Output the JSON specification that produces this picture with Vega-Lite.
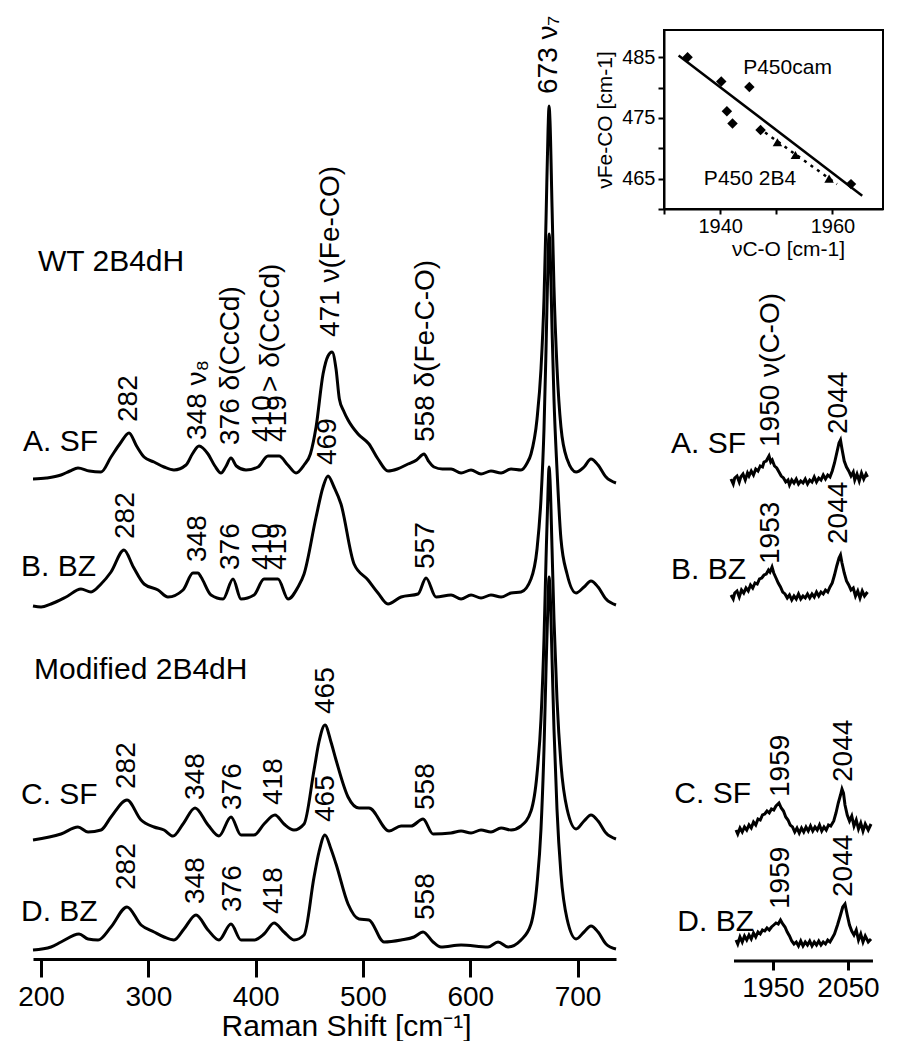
{
"$schema": "https://vega.github.io/schema/vega-lite/v6.json",
"padding": {"left": 17, "top": 15, "right": 0, "bottom": 0},
"config": {"view": {"stroke": null}, "font": "Liberation Sans", "axis": {"grid": false, "domainColor": "black", "tickColor": "black", "labelColor": "black", "titleColor": "black", "titleFontWeight": "normal", "labelOverlap": false}, "text": {"color": "black"}},
"datasets": {
"main": [
{"s":"A","cm":192.5,"I":480},{"s":"A","cm":205,"I":481},{"s":"A","cm":218.6,"I":484},{"s":"A","cm":227,"I":488},{"s":"A","cm":234.4,"I":491},{"s":"A","cm":245,"I":488},{"s":"A","cm":255.9,"I":487},{"s":"A","cm":265.2,"I":502},{"s":"A","cm":274,"I":516},{"s":"A","cm":282,"I":526},{"s":"A","cm":289,"I":513},{"s":"A","cm":296,"I":502},{"s":"A","cm":305.3,"I":497},{"s":"A","cm":314.6,"I":492},{"s":"A","cm":323.9,"I":489},{"s":"A","cm":335.1,"I":494},{"s":"A","cm":341,"I":505},{"s":"A","cm":347.2,"I":513},{"s":"A","cm":355.6,"I":505},{"s":"A","cm":362,"I":493},{"s":"A","cm":367.7,"I":486},{"s":"A","cm":372,"I":492},{"s":"A","cm":377,"I":501},{"s":"A","cm":382,"I":493},{"s":"A","cm":391,"I":489},{"s":"A","cm":402.2,"I":492},{"s":"A","cm":411.5,"I":503},{"s":"A","cm":421.8,"I":503},{"s":"A","cm":430,"I":494},{"s":"A","cm":437.6,"I":486},{"s":"A","cm":445.1,"I":494},{"s":"A","cm":451,"I":505},{"s":"A","cm":456.3,"I":532},{"s":"A","cm":462.8,"I":585},{"s":"A","cm":467.4,"I":603},{"s":"A","cm":471.2,"I":607},{"s":"A","cm":474.9,"I":590},{"s":"A","cm":478,"I":560},{"s":"A","cm":482,"I":548},{"s":"A","cm":486.1,"I":539},{"s":"A","cm":495.4,"I":525},{"s":"A","cm":505.6,"I":515},{"s":"A","cm":514,"I":500},{"s":"A","cm":523.3,"I":488},{"s":"A","cm":532,"I":490},{"s":"A","cm":542,"I":495},{"s":"A","cm":550,"I":499},{"s":"A","cm":556.9,"I":505},{"s":"A","cm":561,"I":498},{"s":"A","cm":566.2,"I":492},{"s":"A","cm":574,"I":490},{"s":"A","cm":582.1,"I":490},{"s":"A","cm":591.4,"I":486},{"s":"A","cm":600.7,"I":489},{"s":"A","cm":610,"I":485},{"s":"A","cm":619.3,"I":488},{"s":"A","cm":628.7,"I":486},{"s":"A","cm":638,"I":490},{"s":"A","cm":647.3,"I":489},{"s":"A","cm":653,"I":496},{"s":"A","cm":656.6,"I":505},{"s":"A","cm":662.2,"I":540},{"s":"A","cm":665.9,"I":590},{"s":"A","cm":668.7,"I":660},{"s":"A","cm":670.6,"I":740},{"s":"A","cm":672.5,"I":830},{"s":"A","cm":673.4,"I":853},{"s":"A","cm":674.3,"I":838},{"s":"A","cm":676.2,"I":752},{"s":"A","cm":678,"I":672},{"s":"A","cm":680.8,"I":592},{"s":"A","cm":684.5,"I":532},{"s":"A","cm":690.2,"I":500},{"s":"A","cm":698.6,"I":487},{"s":"A","cm":706,"I":492},{"s":"A","cm":712.5,"I":500},{"s":"A","cm":719.1,"I":494},{"s":"A","cm":726.5,"I":482},{"s":"A","cm":735.8,"I":476},
{"s":"B","cm":192.5,"I":353},{"s":"B","cm":200,"I":352},{"s":"B","cm":209.3,"I":355},{"s":"B","cm":223.3,"I":362},{"s":"B","cm":237.2,"I":370},{"s":"B","cm":246.6,"I":367},{"s":"B","cm":255.9,"I":375},{"s":"B","cm":265.2,"I":387},{"s":"B","cm":277.3,"I":409},{"s":"B","cm":286,"I":392},{"s":"B","cm":296,"I":375},{"s":"B","cm":309,"I":369},{"s":"B","cm":318.3,"I":362},{"s":"B","cm":332.3,"I":369},{"s":"B","cm":341.6,"I":386},{"s":"B","cm":346.3,"I":386},{"s":"B","cm":349.1,"I":382},{"s":"B","cm":358.4,"I":364},{"s":"B","cm":369.6,"I":360},{"s":"B","cm":378.9,"I":380},{"s":"B","cm":386.3,"I":360},{"s":"B","cm":398.5,"I":364},{"s":"B","cm":407.8,"I":380},{"s":"B","cm":420.8,"I":380},{"s":"B","cm":430.2,"I":360},{"s":"B","cm":439.5,"I":372},{"s":"B","cm":445.1,"I":385},{"s":"B","cm":456.3,"I":442},{"s":"B","cm":462.8,"I":472},{"s":"B","cm":467.4,"I":483},{"s":"B","cm":473,"I":472},{"s":"B","cm":479.5,"I":455},{"s":"B","cm":491.7,"I":395},{"s":"B","cm":504.7,"I":379},{"s":"B","cm":514,"I":366},{"s":"B","cm":523.3,"I":355},{"s":"B","cm":535.5,"I":362},{"s":"B","cm":551.3,"I":365},{"s":"B","cm":558.8,"I":381},{"s":"B","cm":568.1,"I":362},{"s":"B","cm":582.1,"I":364},{"s":"B","cm":591.4,"I":360},{"s":"B","cm":600.7,"I":364},{"s":"B","cm":610,"I":361},{"s":"B","cm":619.3,"I":364},{"s":"B","cm":628.7,"I":362},{"s":"B","cm":638,"I":366},{"s":"B","cm":647.3,"I":367},{"s":"B","cm":656.6,"I":380},{"s":"B","cm":662.2,"I":410},{"s":"B","cm":665.9,"I":460},{"s":"B","cm":668.7,"I":530},{"s":"B","cm":670.6,"I":610},{"s":"B","cm":672.5,"I":700},{"s":"B","cm":673.4,"I":725},{"s":"B","cm":674.3,"I":712},{"s":"B","cm":676.2,"I":630},{"s":"B","cm":678,"I":560},{"s":"B","cm":680.8,"I":490},{"s":"B","cm":684.5,"I":420},{"s":"B","cm":690.2,"I":385},{"s":"B","cm":698.6,"I":366},{"s":"B","cm":706,"I":372},{"s":"B","cm":712.5,"I":378},{"s":"B","cm":719.1,"I":372},{"s":"B","cm":726.5,"I":360},{"s":"B","cm":735.8,"I":354},
{"s":"C","cm":192.5,"I":119},{"s":"C","cm":218.6,"I":125},{"s":"C","cm":234.4,"I":132},{"s":"C","cm":243.8,"I":127},{"s":"C","cm":255.9,"I":129},{"s":"C","cm":265.2,"I":142},{"s":"C","cm":280.1,"I":159},{"s":"C","cm":293.2,"I":139},{"s":"C","cm":305.3,"I":132},{"s":"C","cm":314.6,"I":129},{"s":"C","cm":323,"I":123},{"s":"C","cm":332.3,"I":135},{"s":"C","cm":343.5,"I":151},{"s":"C","cm":355.6,"I":134},{"s":"C","cm":365.8,"I":123},{"s":"C","cm":377,"I":142},{"s":"C","cm":386.3,"I":124},{"s":"C","cm":398.5,"I":124},{"s":"C","cm":407.8,"I":135},{"s":"C","cm":418,"I":144},{"s":"C","cm":426.4,"I":135},{"s":"C","cm":435.7,"I":129},{"s":"C","cm":445.1,"I":135},{"s":"C","cm":454.4,"I":189},{"s":"C","cm":459,"I":217},{"s":"C","cm":464.6,"I":234},{"s":"C","cm":470.2,"I":217},{"s":"C","cm":474.9,"I":199},{"s":"C","cm":486.1,"I":162},{"s":"C","cm":496.3,"I":151},{"s":"C","cm":505.6,"I":151},{"s":"C","cm":524.3,"I":128},{"s":"C","cm":535.5,"I":133},{"s":"C","cm":544.8,"I":133},{"s":"C","cm":556,"I":140},{"s":"C","cm":565.3,"I":125},{"s":"C","cm":582.1,"I":126},{"s":"C","cm":591.4,"I":128},{"s":"C","cm":600.7,"I":126},{"s":"C","cm":610,"I":129},{"s":"C","cm":619.3,"I":127},{"s":"C","cm":628.7,"I":131},{"s":"C","cm":638,"I":129},{"s":"C","cm":647.3,"I":133},{"s":"C","cm":656.6,"I":148},{"s":"C","cm":662.2,"I":185},{"s":"C","cm":665.9,"I":240},{"s":"C","cm":668.7,"I":320},{"s":"C","cm":670.6,"I":400},{"s":"C","cm":672.5,"I":470},{"s":"C","cm":673.4,"I":492},{"s":"C","cm":674.3,"I":480},{"s":"C","cm":676.2,"I":410},{"s":"C","cm":678,"I":340},{"s":"C","cm":680.8,"I":260},{"s":"C","cm":684.5,"I":195},{"s":"C","cm":690.2,"I":150},{"s":"C","cm":698.6,"I":130},{"s":"C","cm":706,"I":138},{"s":"C","cm":712.5,"I":144},{"s":"C","cm":719.1,"I":138},{"s":"C","cm":726.5,"I":126},{"s":"C","cm":735.8,"I":120},
{"s":"D","cm":192.5,"I":9},{"s":"D","cm":209.3,"I":12},{"s":"D","cm":218.6,"I":17},{"s":"D","cm":235.4,"I":25},{"s":"D","cm":243.8,"I":20},{"s":"D","cm":253.1,"I":19},{"s":"D","cm":265.2,"I":32},{"s":"D","cm":280.1,"I":52},{"s":"D","cm":293.2,"I":34},{"s":"D","cm":305.3,"I":27},{"s":"D","cm":314.6,"I":22},{"s":"D","cm":323.9,"I":19},{"s":"D","cm":333.2,"I":30},{"s":"D","cm":344.4,"I":44},{"s":"D","cm":355.6,"I":29},{"s":"D","cm":365.8,"I":19},{"s":"D","cm":377,"I":35},{"s":"D","cm":386.3,"I":19},{"s":"D","cm":398.5,"I":19},{"s":"D","cm":407.8,"I":25},{"s":"D","cm":417.1,"I":36},{"s":"D","cm":426.4,"I":27},{"s":"D","cm":435.7,"I":19},{"s":"D","cm":445.1,"I":24},{"s":"D","cm":454.4,"I":82},{"s":"D","cm":459,"I":107},{"s":"D","cm":464.6,"I":124},{"s":"D","cm":470.2,"I":110},{"s":"D","cm":474.9,"I":95},{"s":"D","cm":486.1,"I":55},{"s":"D","cm":496.3,"I":40},{"s":"D","cm":505.6,"I":39},{"s":"D","cm":519.6,"I":17},{"s":"D","cm":535.5,"I":19},{"s":"D","cm":547.6,"I":22},{"s":"D","cm":556,"I":27},{"s":"D","cm":565.3,"I":17},{"s":"D","cm":572.7,"I":12},{"s":"D","cm":591.4,"I":14},{"s":"D","cm":616.5,"I":12},{"s":"D","cm":625.9,"I":17},{"s":"D","cm":635.2,"I":12},{"s":"D","cm":647.3,"I":19},{"s":"D","cm":656.6,"I":35},{"s":"D","cm":662.2,"I":75},{"s":"D","cm":665.9,"I":130},{"s":"D","cm":668.7,"I":210},{"s":"D","cm":670.6,"I":290},{"s":"D","cm":672.5,"I":360},{"s":"D","cm":673.4,"I":382},{"s":"D","cm":674.3,"I":370},{"s":"D","cm":676.2,"I":300},{"s":"D","cm":678,"I":230},{"s":"D","cm":680.8,"I":150},{"s":"D","cm":684.5,"I":85},{"s":"D","cm":690.2,"I":40},{"s":"D","cm":698.6,"I":20},{"s":"D","cm":706,"I":27},{"s":"D","cm":712.5,"I":33},{"s":"D","cm":719.1,"I":27},{"s":"D","cm":726.5,"I":15},{"s":"D","cm":735.8,"I":10}
],
"mainlab": [
{"cm":282,"I":537,"t":"282"},{"cm":346.3,"I":519,"t":"348 ν₈"},{"cm":377,"I":514,"t":"376 δ(CcCd)"},{"cm":406.9,"I":517,"t":"410"},{"cm":420.8,"I":517,"t":"419"},{"cm":414.3,"I":567,"t":"> δ(CcCd)"},{"cm":470.2,"I":622,"t":"471 ν(Fe-CO)"},{"cm":558.8,"I":517,"t":"558 δ(Fe-C-O)"},{"cm":673.4,"I":865,"t":"673 ν₇"},
{"cm":279.2,"I":420,"t":"282"},{"cm":346.3,"I":397,"t":"348"},{"cm":377,"I":389,"t":"376"},{"cm":406.9,"I":389,"t":"410"},{"cm":420.8,"I":389,"t":"419"},{"cm":467.4,"I":494,"t":"469"},{"cm":558.8,"I":390,"t":"557"},
{"cm":280.1,"I":170,"t":"282"},{"cm":344.4,"I":159,"t":"348"},{"cm":378.9,"I":149,"t":"376"},{"cm":417.1,"I":154,"t":"418"},{"cm":465.6,"I":245,"t":"465"},{"cm":558.8,"I":149,"t":"558"},
{"cm":280.1,"I":69,"t":"282"},{"cm":344.4,"I":55,"t":"348"},{"cm":378.9,"I":47,"t":"376"},{"cm":417.1,"I":45,"t":"418"},{"cm":465.6,"I":137,"t":"465"},{"cm":558.8,"I":39,"t":"558"}
],
"mainname": [
{"cm":197.2,"I":697,"t":"WT 2B4dH"},{"cm":183.2,"I":517,"t":"A. SF"},{"cm":181.3,"I":392,"t":"B. BZ"},{"cm":193.4,"I":289,"t":"Modified 2B4dH"},{"cm":181.3,"I":164,"t":"C. SF"},{"cm":181.3,"I":47,"t":"D. BZ"}
],
"right": [
{"s":"A","wn":1894,"I2":482},{"s":"A","wn":1897,"I2":477},{"s":"A","wn":1899,"I2":483},{"s":"A","wn":1902,"I2":485},{"s":"A","wn":1905,"I2":479},{"s":"A","wn":1907,"I2":484},{"s":"A","wn":1910,"I2":487},{"s":"A","wn":1913,"I2":481},{"s":"A","wn":1916,"I2":488},{"s":"A","wn":1918,"I2":485},{"s":"A","wn":1921,"I2":490},{"s":"A","wn":1924,"I2":486},{"s":"A","wn":1927,"I2":492},{"s":"A","wn":1930,"I2":490},{"s":"A","wn":1933,"I2":495},{"s":"A","wn":1936,"I2":494},{"s":"A","wn":1938,"I2":499},{"s":"A","wn":1941,"I2":500},{"s":"A","wn":1944.7,"I2":505},{"s":"A","wn":1947,"I2":499},{"s":"A","wn":1949,"I2":501},{"s":"A","wn":1952,"I2":495},{"s":"A","wn":1955,"I2":493},{"s":"A","wn":1958,"I2":489},{"s":"A","wn":1961,"I2":485},{"s":"A","wn":1964,"I2":483},{"s":"A","wn":1967,"I2":479},{"s":"A","wn":1970,"I2":481},{"s":"A","wn":1972,"I2":476},{"s":"A","wn":1975,"I2":481},{"s":"A","wn":1978,"I2":478},{"s":"A","wn":1981,"I2":482},{"s":"A","wn":1984,"I2":477},{"s":"A","wn":1987,"I2":480},{"s":"A","wn":1990,"I2":478},{"s":"A","wn":1993,"I2":482},{"s":"A","wn":1996,"I2":477},{"s":"A","wn":1999,"I2":481},{"s":"A","wn":2002,"I2":479},{"s":"A","wn":2005,"I2":484},{"s":"A","wn":2008,"I2":479},{"s":"A","wn":2011,"I2":483},{"s":"A","wn":2014,"I2":481},{"s":"A","wn":2017,"I2":486},{"s":"A","wn":2020,"I2":482},{"s":"A","wn":2023,"I2":486},{"s":"A","wn":2026,"I2":484},{"s":"A","wn":2029,"I2":490},{"s":"A","wn":2032,"I2":498},{"s":"A","wn":2035,"I2":508},{"s":"A","wn":2038,"I2":518},{"s":"A","wn":2040,"I2":521},{"s":"A","wn":2042,"I2":512},{"s":"A","wn":2045,"I2":500},{"s":"A","wn":2048,"I2":494},{"s":"A","wn":2051,"I2":490},{"s":"A","wn":2054,"I2":485},{"s":"A","wn":2057,"I2":489},{"s":"A","wn":2059,"I2":481},{"s":"A","wn":2062,"I2":487},{"s":"A","wn":2065,"I2":480},{"s":"A","wn":2068,"I2":488},{"s":"A","wn":2071,"I2":482},{"s":"A","wn":2074,"I2":487},{"s":"A","wn":2076,"I2":484},
{"s":"B","wn":1894,"I2":366},{"s":"B","wn":1897,"I2":362},{"s":"B","wn":1899,"I2":368},{"s":"B","wn":1902,"I2":370},{"s":"B","wn":1905,"I2":364},{"s":"B","wn":1908,"I2":371},{"s":"B","wn":1911,"I2":368},{"s":"B","wn":1914,"I2":373},{"s":"B","wn":1917,"I2":370},{"s":"B","wn":1920,"I2":376},{"s":"B","wn":1923,"I2":373},{"s":"B","wn":1926,"I2":378},{"s":"B","wn":1929,"I2":377},{"s":"B","wn":1932,"I2":382},{"s":"B","wn":1935,"I2":383},{"s":"B","wn":1938,"I2":386},{"s":"B","wn":1941,"I2":387},{"s":"B","wn":1944,"I2":391},{"s":"B","wn":1946,"I2":389},{"s":"B","wn":1948.7,"I2":394},{"s":"B","wn":1951,"I2":388},{"s":"B","wn":1954,"I2":383},{"s":"B","wn":1957,"I2":378},{"s":"B","wn":1960,"I2":374},{"s":"B","wn":1963,"I2":369},{"s":"B","wn":1966,"I2":367},{"s":"B","wn":1969,"I2":363},{"s":"B","wn":1972,"I2":366},{"s":"B","wn":1975,"I2":361},{"s":"B","wn":1978,"I2":365},{"s":"B","wn":1981,"I2":362},{"s":"B","wn":1984,"I2":367},{"s":"B","wn":1987,"I2":362},{"s":"B","wn":1990,"I2":365},{"s":"B","wn":1993,"I2":363},{"s":"B","wn":1996,"I2":367},{"s":"B","wn":1999,"I2":363},{"s":"B","wn":2002,"I2":367},{"s":"B","wn":2005,"I2":364},{"s":"B","wn":2008,"I2":369},{"s":"B","wn":2011,"I2":365},{"s":"B","wn":2014,"I2":369},{"s":"B","wn":2017,"I2":367},{"s":"B","wn":2020,"I2":371},{"s":"B","wn":2023,"I2":369},{"s":"B","wn":2026,"I2":374},{"s":"B","wn":2029,"I2":378},{"s":"B","wn":2032,"I2":386},{"s":"B","wn":2035,"I2":395},{"s":"B","wn":2038,"I2":403},{"s":"B","wn":2040,"I2":406},{"s":"B","wn":2042,"I2":398},{"s":"B","wn":2045,"I2":388},{"s":"B","wn":2048,"I2":380},{"s":"B","wn":2051,"I2":376},{"s":"B","wn":2054,"I2":371},{"s":"B","wn":2057,"I2":373},{"s":"B","wn":2060,"I2":365},{"s":"B","wn":2063,"I2":370},{"s":"B","wn":2066,"I2":363},{"s":"B","wn":2069,"I2":370},{"s":"B","wn":2072,"I2":365},{"s":"B","wn":2076,"I2":369},
{"s":"C","wn":1900.7,"I2":131},{"s":"C","wn":1903,"I2":127},{"s":"C","wn":1906,"I2":133},{"s":"C","wn":1909,"I2":129},{"s":"C","wn":1912,"I2":134},{"s":"C","wn":1915,"I2":131},{"s":"C","wn":1918,"I2":136},{"s":"C","wn":1921,"I2":133},{"s":"C","wn":1924,"I2":139},{"s":"C","wn":1927,"I2":136},{"s":"C","wn":1930,"I2":142},{"s":"C","wn":1933,"I2":141},{"s":"C","wn":1936,"I2":146},{"s":"C","wn":1939,"I2":147},{"s":"C","wn":1942,"I2":150},{"s":"C","wn":1945,"I2":148},{"s":"C","wn":1948,"I2":152},{"s":"C","wn":1951,"I2":151},{"s":"C","wn":1954,"I2":155},{"s":"C","wn":1958,"I2":158},{"s":"C","wn":1961,"I2":153},{"s":"C","wn":1964,"I2":150},{"s":"C","wn":1967,"I2":144},{"s":"C","wn":1970,"I2":141},{"s":"C","wn":1973,"I2":136},{"s":"C","wn":1976,"I2":134},{"s":"C","wn":1979,"I2":129},{"s":"C","wn":1982,"I2":133},{"s":"C","wn":1985,"I2":128},{"s":"C","wn":1988,"I2":133},{"s":"C","wn":1991,"I2":129},{"s":"C","wn":1994,"I2":134},{"s":"C","wn":1997,"I2":130},{"s":"C","wn":2000,"I2":135},{"s":"C","wn":2003,"I2":130},{"s":"C","wn":2006,"I2":134},{"s":"C","wn":2009,"I2":131},{"s":"C","wn":2012,"I2":136},{"s":"C","wn":2015,"I2":130},{"s":"C","wn":2018,"I2":134},{"s":"C","wn":2021,"I2":131},{"s":"C","wn":2024,"I2":136},{"s":"C","wn":2027,"I2":135},{"s":"C","wn":2031,"I2":140},{"s":"C","wn":2034,"I2":148},{"s":"C","wn":2037,"I2":158},{"s":"C","wn":2040,"I2":166},{"s":"C","wn":2042,"I2":172},{"s":"C","wn":2044,"I2":168},{"s":"C","wn":2046,"I2":156},{"s":"C","wn":2049,"I2":146},{"s":"C","wn":2052,"I2":140},{"s":"C","wn":2055,"I2":145},{"s":"C","wn":2058,"I2":135},{"s":"C","wn":2061,"I2":141},{"s":"C","wn":2064,"I2":132},{"s":"C","wn":2067,"I2":138},{"s":"C","wn":2070,"I2":130},{"s":"C","wn":2073,"I2":137},{"s":"C","wn":2077,"I2":131},{"s":"C","wn":2080.7,"I2":137},
{"s":"D","wn":1900.7,"I2":21},{"s":"D","wn":1903,"I2":17},{"s":"D","wn":1906,"I2":24},{"s":"D","wn":1909,"I2":19},{"s":"D","wn":1912,"I2":25},{"s":"D","wn":1915,"I2":21},{"s":"D","wn":1918,"I2":26},{"s":"D","wn":1921,"I2":22},{"s":"D","wn":1924,"I2":28},{"s":"D","wn":1927,"I2":24},{"s":"D","wn":1930,"I2":29},{"s":"D","wn":1933,"I2":27},{"s":"D","wn":1936,"I2":31},{"s":"D","wn":1939,"I2":30},{"s":"D","wn":1942,"I2":33},{"s":"D","wn":1945,"I2":31},{"s":"D","wn":1948,"I2":34},{"s":"D","wn":1951,"I2":36},{"s":"D","wn":1954,"I2":38},{"s":"D","wn":1957,"I2":37},{"s":"D","wn":1960,"I2":41},{"s":"D","wn":1963,"I2":37},{"s":"D","wn":1966,"I2":34},{"s":"D","wn":1969,"I2":29},{"s":"D","wn":1972,"I2":25},{"s":"D","wn":1975,"I2":20},{"s":"D","wn":1978,"I2":17},{"s":"D","wn":1981,"I2":19},{"s":"D","wn":1984,"I2":15},{"s":"D","wn":1987,"I2":20},{"s":"D","wn":1990,"I2":15},{"s":"D","wn":1993,"I2":19},{"s":"D","wn":1996,"I2":16},{"s":"D","wn":1999,"I2":20},{"s":"D","wn":2002,"I2":15},{"s":"D","wn":2005,"I2":19},{"s":"D","wn":2008,"I2":16},{"s":"D","wn":2011,"I2":20},{"s":"D","wn":2014,"I2":16},{"s":"D","wn":2017,"I2":19},{"s":"D","wn":2020,"I2":17},{"s":"D","wn":2023,"I2":21},{"s":"D","wn":2026,"I2":19},{"s":"D","wn":2029,"I2":23},{"s":"D","wn":2032,"I2":27},{"s":"D","wn":2036,"I2":36},{"s":"D","wn":2040,"I2":46},{"s":"D","wn":2043,"I2":54},{"s":"D","wn":2046,"I2":57},{"s":"D","wn":2049,"I2":46},{"s":"D","wn":2052,"I2":36},{"s":"D","wn":2055,"I2":30},{"s":"D","wn":2058,"I2":26},{"s":"D","wn":2061,"I2":31},{"s":"D","wn":2064,"I2":21},{"s":"D","wn":2067,"I2":27},{"s":"D","wn":2070,"I2":19},{"s":"D","wn":2073,"I2":25},{"s":"D","wn":2077,"I2":19},{"s":"D","wn":2080.7,"I2":22}
],
"rightlab": [
{"wn":1947.3,"I2":514,"t":"1950 ν(C-O)"},{"wn":2038,"I2":527,"t":"2044"},
{"wn":1947.3,"I2":397,"t":"1953"},{"wn":2038,"I2":417,"t":"2044"},
{"wn":1960.7,"I2":164,"t":"1959"},{"wn":2044.7,"I2":179,"t":"2044"},
{"wn":1960.7,"I2":52,"t":"1959"},{"wn":2044.7,"I2":64,"t":"2044"}
],
"rightname": [
{"wn":1914,"I2":517,"t":"A. SF"},{"wn":1914,"I2":391,"t":"B. BZ"},{"wn":1920.7,"I2":167,"t":"C. SF"},{"wn":1924.7,"I2":39,"t":"D. BZ"}
],
"diam": [
{"vco":1934.2,"vfe":485},{"vco":1940.2,"vfe":481},{"vco":1945.2,"vfe":480.1},{"vco":1941.2,"vfe":476.1},{"vco":1942.2,"vfe":474.1},{"vco":1947.2,"vfe":473},{"vco":1963.3,"vfe":464.1}
],
"tri": [
{"vco":1950.2,"vfe":471},{"vco":1953.4,"vfe":468.9},{"vco":1959.4,"vfe":465}
],
"fit": [{"vco":1932.6,"vfe":485.3},{"vco":1965.3,"vfe":462.2}],
"fit2": [{"vco":1948,"vfe":472.6},{"vco":1960.8,"vfe":464.1}],
"insetlab": [{"vco":1944.1,"vfe":483.3,"t":"P450cam"},{"vco":1937.1,"vfe":465.0,"t":"P450 2B4"}]
},
"hconcat": [
{
"width": 583, "height": 929,
"layer": [
{"data": {"name": "main"}, "mark": {"type": "line", "color": "black", "strokeWidth": 3, "interpolate": "monotone"},
 "encoding": {
  "x": {"field": "cm", "type": "quantitative", "scale": {"domain": [192.5, 735.8], "nice": false, "zero": false},
        "axis": {"values": [200, 300, 400, 500, 600, 700], "format": "d", "tickCount": 20, "domainWidth": 3, "tickWidth": 3, "tickSize": 18, "labelFontSize": 28, "labelPadding": 6, "title": "Raman Shift [cm⁻¹]", "titleFontSize": 30, "titlePadding": 0, "titleX": 313, "titleAlign": "center", "titleAnchor": null}},
  "y": {"field": "I", "type": "quantitative", "scale": {"domain": [0, 929], "nice": false, "zero": false}, "axis": null},
  "detail": {"field": "s"}}},
{"data": {"name": "mainlab"}, "mark": {"type": "text", "angle": 270, "align": "left", "baseline": "middle", "fontSize": 28},
 "encoding": {"x": {"field": "cm", "type": "quantitative"}, "y": {"field": "I", "type": "quantitative"}, "text": {"field": "t"}}},
{"data": {"name": "mainname"}, "mark": {"type": "text", "align": "left", "baseline": "middle", "fontSize": 30},
 "encoding": {"x": {"field": "cm", "type": "quantitative"}, "y": {"field": "I", "type": "quantitative"}, "text": {"field": "t"}}}
]
},
{
"vconcat": [
{
"width": 219, "height": 179,
"view": {"stroke": "black", "strokeWidth": 2},
"layer": [
{"data": {"name": "fit"}, "mark": {"type": "line", "color": "black", "strokeWidth": 2.5},
 "encoding": {
  "x": {"field": "vco", "type": "quantitative", "scale": {"domain": [1930, 1969], "nice": false, "zero": false},
        "axis": {"values": [1930, 1940, 1950, 1960], "format": "d", "tickCount": 20, "labelExpr": "datum.value == 1940 || datum.value == 1960 ? datum.label : ''", "domainWidth": 2, "tickWidth": 2, "tickSize": 5, "labelFontSize": 20, "labelPadding": 2, "title": "νC-O [cm-1]", "titleFontSize": 21, "titlePadding": 2, "titleX": 124, "titleAlign": "center", "titleAnchor": null}},
  "y": {"field": "vfe", "type": "quantitative", "scale": {"domain": [460, 489.5], "nice": false, "zero": false},
        "axis": {"values": [460, 465, 470, 475, 480, 485], "format": "d", "tickCount": 20, "labelExpr": "datum.value == 465 || datum.value == 475 || datum.value == 485 ? datum.label : ''", "domainWidth": 2, "tickWidth": 2, "tickSize": 6, "labelFontSize": 20, "labelPadding": 3, "title": "νFe-CO [cm-1]", "titleFontSize": 21, "titlePadding": 6}}}},
{"data": {"name": "fit2"}, "mark": {"type": "line", "color": "black", "strokeWidth": 2.5, "strokeDash": [3, 5]},
 "encoding": {"x": {"field": "vco", "type": "quantitative"}, "y": {"field": "vfe", "type": "quantitative"}}},
{"data": {"name": "diam"}, "mark": {"type": "point", "shape": "diamond", "filled": true, "color": "black", "size": 110, "opacity": 1},
 "encoding": {"x": {"field": "vco", "type": "quantitative"}, "y": {"field": "vfe", "type": "quantitative"}}},
{"data": {"name": "tri"}, "mark": {"type": "point", "shape": "triangle-up", "filled": true, "color": "black", "size": 90, "opacity": 1},
 "encoding": {"x": {"field": "vco", "type": "quantitative"}, "y": {"field": "vfe", "type": "quantitative"}}},
{"data": {"name": "insetlab"}, "mark": {"type": "text", "align": "left", "baseline": "middle", "fontSize": 21},
 "encoding": {"x": {"field": "vco", "type": "quantitative"}, "y": {"field": "vfe", "type": "quantitative"}, "text": {"field": "t"}}}
]
},
{
"width": 219, "height": 742,
"layer": [
{"data": {"name": "right"}, "mark": {"type": "line", "color": "black", "strokeWidth": 3},
 "encoding": {
  "x": {"field": "wn", "type": "quantitative", "scale": {"domain": [1804.67, 2096.67], "nice": false, "zero": false},
        "axis": {"values": [1950, 2050], "format": "d", "domain": false, "tickWidth": 3, "tickSize": 9, "labelFontSize": 28, "labelPadding": 4, "title": null}},
  "y": {"field": "I2", "type": "quantitative", "scale": {"domain": [0, 742], "nice": false, "zero": false}, "axis": null},
  "detail": {"field": "s"}}},
{"data": {"values": [{"wn": 1898, "wn2": 2083.3}]}, "mark": {"type": "rule", "color": "black", "strokeWidth": 3},
 "encoding": {"x": {"field": "wn", "type": "quantitative"}, "x2": {"field": "wn2"}, "y": {"datum": 0}}},
{"data": {"name": "rightlab"}, "mark": {"type": "text", "angle": 270, "align": "left", "baseline": "middle", "fontSize": 28},
 "encoding": {"x": {"field": "wn", "type": "quantitative"}, "y": {"field": "I2", "type": "quantitative"}, "text": {"field": "t"}}},
{"data": {"name": "rightname"}, "mark": {"type": "text", "align": "right", "baseline": "middle", "fontSize": 30},
 "encoding": {"x": {"field": "wn", "type": "quantitative"}, "y": {"field": "I2", "type": "quantitative"}, "text": {"field": "t"}}}
]
}
],
"spacing": 10,
"bounds": "flush",
"resolve": {"scale": {"x": "independent", "y": "independent"}}
}
],
"spacing": 48,
"bounds": "flush",
"resolve": {"scale": {"x": "independent", "y": "independent"}}
}
